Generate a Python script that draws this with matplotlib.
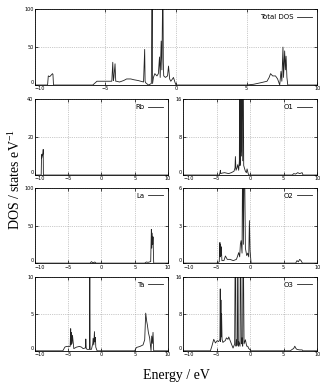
#DOS panels: total and projected

import matplotlib.pyplot as plt

# energies (eV) and DOS values
e_total = [-10, -9.1, -9.05, -8.95, -8.85, -8.75, -8.72, -8.68, -5.9, -5.6, -5.0, -4.55,
           -4.48, -4.44, -4.4, -4.32, -4.27, -4.22, -4.0, -3.7, -3.5, -3.2, -3.0, -2.7, -2.3,
           -2.22, -2.19, -2.15, -1.95, -1.75, -1.69, -1.66, -1.6, -1.5, -1.35, -1.25, -1.17,
           -1.12, -1.05, -1.0, -0.93, -0.9, -0.87, -0.75, -0.6, -0.53, -0.45, -0.37, -0.25,
           -0.18, -0.08, 0.0, 5.0, 5.5, 6.0, 6.45, 6.6, 6.7, 6.85, 7.05, 7.2, 7.35, 7.44,
           7.5, 7.58, 7.62, 7.7, 7.75, 7.8, 7.86, 7.92, 10]
dos_total = [0, 0, 12, 11, 13, 15, 14, 0, 0, 5, 5, 5,
             30, 6, 10, 28, 5, 5, 4, 6, 8, 8, 7, 6, 4,
             47, 5, 3, 0, 2, 150, 2, 10, 15, 12, 15, 37,
             10, 58, 20, 150, 30, 12, 10, 12, 25, 8, 5, 8,
             10, 4, 0, 0, 1, 3, 5, 10, 15, 12, 12, 8, 0, 18,
             5, 50, 10, 45, 20, 38, 10, 0, 0]

e_rb = [-10, -9.05, -9.0, -8.97, -8.93, -8.9, -8.85, -8.8, -8.77, -8.75, -8.72, 10]
dos_rb = [0, 0, 10.5, 9, 11, 10, 10.5, 11, 12, 13.5, 0, 0]

e_la = [-10, -1.7, -1.5, -1.3, -1.1, -1.0, -0.8, 6.5, 6.75, 7.0, 7.4, 7.5, 7.55, 7.62,
        7.7, 7.75, 7.85, 10]
dos_la = [0, 0, 2.0, 0.5, 1.0, 1.5, 0, 0, 1.5, 1.0, 2, 45, 20, 40, 25, 35, 0, 0]

e_ta = [-10, -5.8, -5.5, -5.25, -4.7, -4.62, -4.58, -4.5, -4.42, -4.35, -4.15, -3.75,
        -3.3, -3.0, -2.75, -2.4, -2.35, -2.28, -2.15, -1.8, -1.75, -1.7, -1.5, -1.3,
        -1.25, -1.15, -1.05, -1.0, -0.9, -0.85, -0.65, 5.0, 5.25, 5.8, 6.25, 6.5, 6.65,
        6.8, 6.9, 7.05, 7.25, 7.45, 7.55, 7.65, 7.75, 7.85, 10]
dos_ta = [0, 0, 0.5, 0.6, 0.6, 3.0, 0.8, 2.5, 1.0, 2.1, 0.3, 0.5,
          0.6, 0.5, 0.3, 0.4, 1.6, 0.3, 0.2, 0.2, 15, 0.2, 0.2, 1.0,
          1.7, 0.8, 2.6, 1.2, 1.8, 0.5, 0, 0, 0.45, 0.6, 0.8, 1.5, 5.1,
          4.0, 3.5, 2.5, 1.7, 0, 2.0, 1.0, 2.5, 0, 0]

e_o1 = [-10, -4.6, -4.5, -4.43, -4.38, -4.2, -3.8, -3.2, -2.8, -2.4, -2.25, -2.19, -2.1,
        -1.95, -1.84, -1.7, -1.6, -1.54, -1.5, -1.4, -1.34, -1.29, -1.2, -1.1, -1.04,
        -0.95, -0.85, -0.7, -0.55, -0.45, -0.3, -0.2, 6.3, 6.5, 6.8, 7.1, 7.4, 7.76, 7.9, 10]
dos_o1 = [0, 0, 0.4, 1.0, 0.3, 0.4, 0.5, 0.3, 0.5, 0.8, 1.5, 3.9, 1.0,
          1.5, 2.2, 1.0, 3.0, 30, 2.0, 5.0, 30, 4.0, 30, 3.0, 30,
          2.0, 1.5, 0.8, 0.5, 1.3, 0.4, 0, 0, 0.3, 0.2, 0.5, 0.3, 0.5, 0, 0]

e_o2 = [-10, -5.0, -4.6, -4.5, -4.45, -4.4, -4.35, -4.3, -4.2, -3.9, -3.68, -3.4, -3.0,
        -2.5, -2.04, -1.9, -1.7, -1.55, -1.45, -1.34, -1.2, -1.1, -1.0, -0.85, -0.7,
        -0.5, -0.35, -0.2, -0.1, 0.0, 0.15, 6.8, 7.0, 7.2, 7.4, 7.6, 7.8, 10]
dos_o2 = [0, 0, 0.1, 1.65, 0.5, 1.5, 0.6, 1.3, 0.2, 0.2, 0.57, 0.3, 0.3,
          0.2, 0.3, 0.5, 0.84, 0.5, 1.5, 1.8, 0.8, 10, 1.5, 10, 1.2,
          0.6, 0.8, 0.5, 3.4, 1.0, 0, 0, 0.2, 0.1, 0.3, 0.2, 0, 0]

e_o3 = [-10, -5.92, -5.7, -5.42, -5.17, -4.9, -4.68, -4.5, -4.45, -4.4, -4.35, -4.3,
        -4.25, -4.18, -4.05, -3.93, -3.7, -3.53, -3.3, -3.18, -2.84, -2.54, -2.3, -2.19,
        -2.1, -2.04, -1.9, -1.84, -1.75, -1.69, -1.5, -1.44, -1.3, -1.2, -1.1, -1.04,
        -0.9, -0.7, -0.5, -0.35, -0.2, -0.05, 0.15, 6.0, 6.27, 6.5, 6.67, 6.85, 7.0,
        7.4, 7.76, 7.9, 10]
dos_o3 = [0, 0, 1.0, 2.5, 1.7, 2.2, 2.0, 2.5, 13.4, 2.0, 11, 3.0,
          8.0, 2.5, 1.8, 2.0, 2.2, 2.8, 2.5, 3.0, 1.7, 0.6, 1.5, 30,
          1.0, 2.4, 1.2, 30, 1.0, 2.0, 1.0, 30, 1.5, 2.8, 1.0, 30,
          1.5, 2.4, 1.0, 1.0, 0.5, 0.3, 0, 0, 0.3, 0.5, 1.0, 0.5, 0.3,
          0.2, 0.2, 0, 0]

# panel name, energies, dos, y ticks
panels = [("Total DOS", e_total, dos_total, [0, 50, 100]),
          ("Rb", e_rb, dos_rb, [0, 20, 40]),
          ("O1", e_o1, dos_o1, [0, 8, 16]),
          ("La", e_la, dos_la, [0, 50, 100]),
          ("O2", e_o2, dos_o2, [0, 3, 6]),
          ("Ta", e_ta, dos_ta, [0, 5, 10]),
          ("O3", e_o3, dos_o3, [0, 8, 16])]

# axes boxes [left, bottom, width, height] in figure fraction
boxes = [[0.109, 0.778, 0.882, 0.198],
         [0.109, 0.543, 0.416, 0.198],
         [0.572, 0.543, 0.419, 0.198],
         [0.109, 0.313, 0.416, 0.196],
         [0.572, 0.313, 0.419, 0.196],
         [0.109, 0.084, 0.416, 0.193],
         [0.572, 0.084, 0.419, 0.193]]

fig = plt.figure(figsize=(3.2, 3.83), dpi=100)

for (name, e, d, yt), box in zip(panels, boxes):
    ax = fig.add_axes(box)
    ax.plot(e, d, color='#222222', lw=0.6, label=name)
    ax.set_xlim(-10, 10)
    ax.set_ylim(yt[0], yt[-1])
    ax.set_xticks([-10, -5, 0, 5, 10])
    ax.set_yticks(yt)
    ax.grid(color='#999999', ls=':', lw=0.5)
    ax.tick_params(direction='in', top=True, right=True, length=2, width=0.5,
                   labelsize=3.5, pad=1)
    # gnuplot-like corner: -10 starts at the edge, 0 sits just above it
    ax.get_xticklabels()[0].set_horizontalalignment('left')
    ax.get_yticklabels()[0].set_verticalalignment('bottom')
    for s in ax.spines.values():
        s.set_linewidth(0.6)
    ax.legend(loc='upper right', frameon=False, fontsize=5, handlelength=2.2,
              markerfirst=False, borderaxespad=0.3, handletextpad=0.5)

fig.text(0.045, 0.53, r"DOS / states eV$^{\mathregular{-1}}$", rotation=90,
         ha='center', va='center', family='Liberation Serif', fontsize=10)
fig.text(0.55, 0.02, "Energy / eV", ha='center', va='center',
         family='Liberation Serif', fontsize=10)

fig.savefig('out.png', dpi=100)
